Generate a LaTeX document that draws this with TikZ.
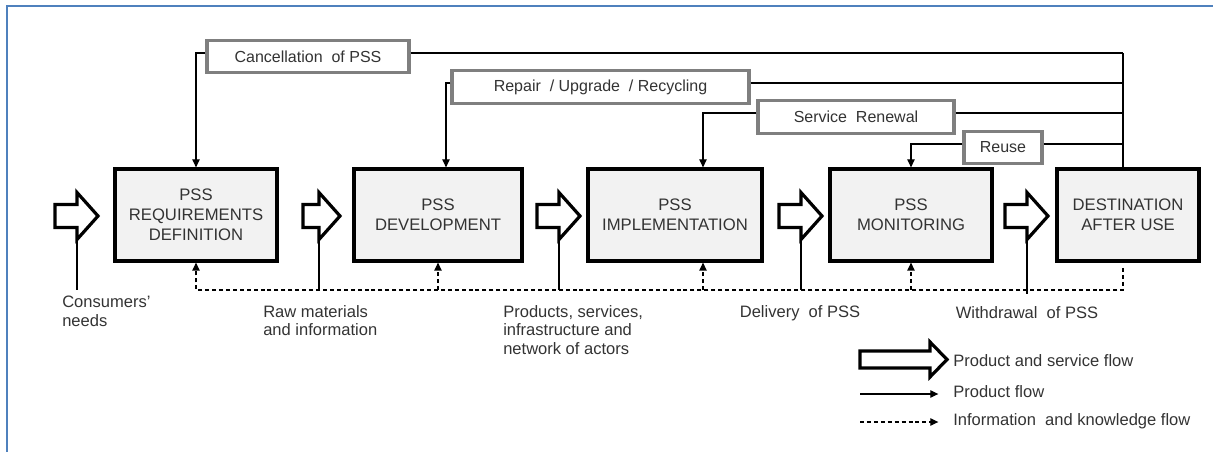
\documentclass[tikz,border=0pt]{standalone}
\usepackage{fontspec}
\setmainfont{Liberation Sans}
\usetikzlibrary{arrows.meta}

\definecolor{frameblue}{HTML}{4F81BD}
\definecolor{taggray}{HTML}{7F7F7F}
\definecolor{stagefill}{HTML}{F2F2F2}
\definecolor{txt}{HTML}{333333}

\tikzset{
  stage/.style={draw=black, line width=2.4pt, fill=stagefill, align=center, text=txt,
    minimum height=69pt, inner sep=0pt, font=\fontsize{12.5}{15}\selectfont},
  tag/.style={draw=taggray, line width=2.4pt, fill=white, text=txt,
    minimum height=24.5pt, inner sep=0pt, font=\fontsize{12}{14}\selectfont},
  note/.style={text=txt, align=left, inner sep=0pt, font=\fontsize{12.4}{14}\selectfont},
  link/.style={line width=0.9pt},
  info/.style={line width=0.9pt, dash pattern=on 3pt off 2.2pt},
  tip/.style={-{Triangle[length=6pt,width=5.5pt]}},
  pics/bigarrow/.style n args={4}{code={
    \draw[line width=2.4pt, fill=white, line join=miter]
      (-#1,-#2) -- (0,-#2) -- (0,-#4) -- (#3,0) -- (0,#4) -- (0,#2) -- (-#1,#2) -- cycle;
    \coordinate (-foot) at (0,#4);
  }}
}

\begin{document}
\begin{tikzpicture}[x=0.75pt, y=-0.75pt]
\useasboundingbox (0,0) rectangle (1213,452);

% frame
\draw[frameblue, line width=1.5pt] (7,452) -- (7,6) -- (1213,6);

% stages
\node[stage, minimum width=121.5pt] (box1) at (196,215) {PSS\\REQUIREMENTS\\DEFINITION};
\node[stage, minimum width=126pt]   (box2) at (438,215) {PSS\\DEVELOPMENT};
\node[stage, minimum width=130.5pt] (box3) at (675,215) {PSS\\IMPLEMENTATION};
\node[stage, minimum width=121.5pt] (box4) at (911,215) {PSS\\MONITORING};
\node[stage, minimum width=106.5pt] (box5) at (1128,215) {DESTINATION\\AFTER USE};

% product and service flow
\pic (a1) at (77,216)   {bigarrow={22}{11.5}{21}{23.5}};
\pic (a2) at (319,216)  {bigarrow={16}{11.5}{21}{23.5}};
\pic (a3) at (559,216)  {bigarrow={22}{11.5}{21}{23.5}};
\pic (a4) at (801,216)  {bigarrow={22}{11.5}{21}{23.5}};
\pic (a5) at (1027,216) {bigarrow={22}{11.5}{21}{23.5}};

% feedback tags
\node[tag, minimum width=151.5pt]  (cancel)  at (308,56.5) {Cancellation~ of PSS};
\node[tag, minimum width=222.75pt] (repair)  at (600.5,87) {Repair~ / Upgrade~ / Recycling};
\node[tag, minimum width=147pt]    (renew)   at (856,117)  {Service~ Renewal};
\node[tag, minimum width=58.5pt]   (reuse)   at (1003,147.5) {Reuse};

% rows and columns
\coordinate (r1) at (0,53);
\coordinate (r2) at (0,83);
\coordinate (r3) at (0,113);
\coordinate (r4) at (0,144);
\coordinate (r5) at (0,290);
\coordinate (bus) at (1123,0);
\coordinate (k2) at (446,0);
\coordinate (k3) at (703,0);

% feedback loops
\draw[link] (box5.north -| bus) -- (bus |- r1);
\draw[link] (cancel.east |- r1) -- (bus |- r1);
\draw[link] (repair.east |- r2) -- (bus |- r2);
\draw[link] (renew.east |- r3) -- (bus |- r3);
\draw[link] (reuse.east |- r4) -- (bus |- r4);
\draw[link,tip] (cancel.west |- r1) -| (box1.north);
\draw[link,tip] (repair.west |- r2) -| (k2 |- box2.north);
\draw[link,tip] (renew.west |- r3) -| (k3 |- box3.north);
\draw[link,tip] (reuse.west |- r4) -| (box4.north);

% information and knowledge flow
\draw[info,tip,shorten <=4pt] (box5.south -| bus) |- (box1.south |- r5) -- (box1.south);
\draw[info,tip] (box2.south |- r5) -- (box2.south);
\draw[info,tip] (k3 |- r5) -- (k3 |- box3.south);
\draw[info,tip] (box4.south |- r5) -- (box4.south);

% inputs
\node[note, anchor=north west] (needs)    at (62,296)  {Consumers'\\needs};
\node[note, anchor=north west] (raw)      at (263,305) {Raw materials\\and information};
\node[note, anchor=north west] (products) at (503,305) {Products, services,\\infrastructure and\\network of actors};
\node[note] (delivery)   at (800,313)  {Delivery~ of PSS};
\node[note] (withdrawal) at (1027,313) {Withdrawal~ of PSS};

\draw[link] (a1-foot) -- (a1-foot |- r5);
\draw[link] (a2-foot) -- (a2-foot |- r5);
\draw[link] (a3-foot) -- (a3-foot |- r5);
\draw[link] (a4-foot) -- (a4-foot |- r5);
\draw[link] (a5-foot) -- ([yshift=-3pt]a5-foot |- r5);

% legend
\pic (lg) at (930,359.5) {bigarrow={70}{8.5}{17}{17.5}};
\node[note, anchor=west] (lg1) at (953,361) {Product and service flow};
\node[note, anchor=west] (lg2) at (953,392) {Product flow};
\node[note, anchor=west] (lg3) at (953,421) {Information~ and knowledge flow};
\coordinate (l2) at (860,394);
\coordinate (l3) at (860,422);
\draw[link,tip,shorten >=11pt] (l2) -- (l2 -| lg2.west);
\draw[info,tip,shorten >=11pt] (l3) -- (l3 -| lg3.west);

\end{tikzpicture}
\end{document}
